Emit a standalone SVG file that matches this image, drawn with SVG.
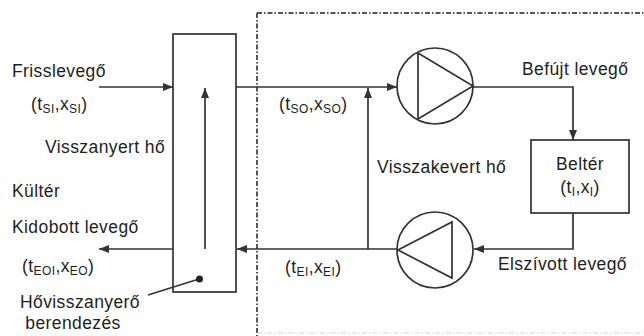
<svg xmlns="http://www.w3.org/2000/svg" width="644" height="336" viewBox="0 0 644 336">
<defs>
<marker id="ah" viewBox="0 0 10 8" refX="10" refY="4" markerWidth="10" markerHeight="8" markerUnits="userSpaceOnUse" orient="auto">
<path d="M0,0 L10,4 L0,8 Z" fill="#333"/>
</marker>
</defs>
<style>
text{font-family:"Liberation Sans",Arial,sans-serif;font-size:17.5px;fill:#1e1e1e;letter-spacing:0.4px}
.sub{font-size:12px}
.ln{fill:none;stroke:#333;stroke-width:1.7}
.bd{fill:none;stroke:#555;stroke-width:2;stroke-dasharray:5 2 1.5 2}
.nd{fill:#fff;stroke:#333;stroke-width:1.7}
</style>
<rect width="644" height="336" fill="#fff"/>
<g id="boundary">
<path class="bd" d="M257,13 H644 M257,13 V336"/>
<path d="M257,333 H644" fill="none" stroke="#d4d4d4" stroke-width="1.2" stroke-dasharray="5 2 1.5 2"/>
</g>
<g id="connectors">
<path class="ln" d="M99,87 H173" marker-end="url(#ah)"/>
<path class="ln" d="M205,249 V88" marker-end="url(#ah)"/>
<path class="ln" d="M173,249 H99" marker-end="url(#ah)"/>
<path class="ln" d="M236,87 H397" marker-end="url(#ah)"/>
<path class="ln" d="M368,249 V88" marker-end="url(#ah)"/>
<path class="ln" d="M473,87 H573 V140" marker-end="url(#ah)"/>
<path class="ln" d="M573,213 V249 H474" marker-end="url(#ah)"/>
<path class="ln" d="M397,249 H237" marker-end="url(#ah)"/>
<path class="ln" d="M148,295 L199,279"/>
</g>
<g id="heat-exchanger">
<rect x="173" y="34" width="63" height="258" fill="none" stroke="#333" stroke-width="1.7"/>
<circle cx="199.5" cy="279" r="3.5" fill="#222"/>
</g>
<g id="supply-fan">
<circle class="nd" cx="435" cy="86" r="38"/>
<path class="ln" d="M418,53 V119 L473,86 Z"/>
</g>
<g id="return-fan">
<circle class="nd" cx="435" cy="250" r="38"/>
<path class="ln" d="M452,222 V278 L398,250 Z"/>
</g>
<g id="belter">
<rect class="nd" x="531" y="140" width="98" height="73"/>
<text x="580" y="170" text-anchor="middle">Beltér</text>
<text x="580" y="193" text-anchor="middle">(t<tspan class="sub" dy="3">I</tspan><tspan dy="-3">,x</tspan><tspan class="sub" dy="3">I</tspan><tspan dy="-3">)</tspan></text>
</g>
<g id="labels">
<text x="12" y="77">Frisslevegő</text>
<text x="31" y="110">(t<tspan class="sub" dy="3">SI</tspan><tspan dy="-3">,x</tspan><tspan class="sub" dy="3">SI</tspan><tspan dy="-3">)</tspan></text>
<text x="45" y="153">Visszanyert hő</text>
<text x="12" y="197">Kültér</text>
<text x="12" y="233">Kidobott levegő</text>
<text x="22" y="272">(t<tspan class="sub" dy="3">EOI</tspan><tspan dy="-3">,x</tspan><tspan class="sub" dy="3">EO</tspan><tspan dy="-3">)</tspan></text>
<text x="80" y="308" text-anchor="middle">Hővisszanyerő</text>
<text x="73" y="329" text-anchor="middle">berendezés</text>
<text x="279" y="110">(t<tspan class="sub" dy="3">SO</tspan><tspan dy="-3">,x</tspan><tspan class="sub" dy="3">SO</tspan><tspan dy="-3">)</tspan></text>
<text x="377" y="173">Visszakevert hő</text>
<text x="522" y="75">Befújt levegő</text>
<text x="285" y="273">(t<tspan class="sub" dy="3">EI</tspan><tspan dy="-3">,x</tspan><tspan class="sub" dy="3">EI</tspan><tspan dy="-3">)</tspan></text>
<text x="498" y="270">Elszívott levegő</text>
</g>
</svg>
